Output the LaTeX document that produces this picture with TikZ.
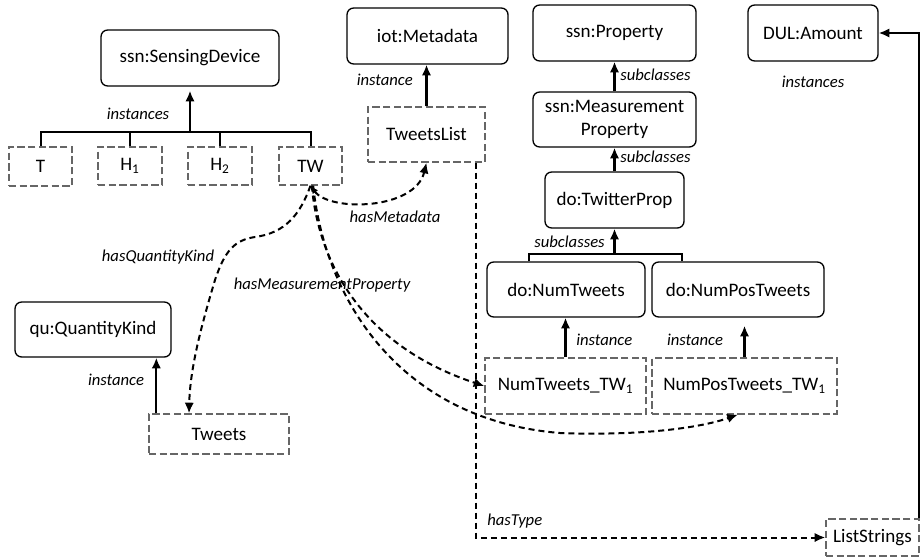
\documentclass[tikz,border=0pt]{standalone}
\usepackage{fontspec}
\setmainfont{Carlito}
\usetikzlibrary{arrows.meta,calc}
\begin{document}
\begin{tikzpicture}[x=0.75pt,y=-0.75pt,
  sz/.style 2 args={minimum width=#1*0.75pt, minimum height=#2*0.75pt},
  cls/.style={draw=black, line width=1pt, rounded corners=5pt, fill=white,
    font=\fontsize{14.3}{17}\selectfont, align=center, inner sep=1pt},
  inst/.style={draw=black!60, line width=1pt, dash pattern=on 5.5pt off 2.5pt,
    fill=white, font=\fontsize{14.3}{17}\selectfont, inner sep=1pt},
  lbl/.style={font=\fontsize{12.5}{15}\selectfont\itshape, inner sep=0pt},
  tip/.style={-{Latex[length=8pt,width=7pt]}},
  isa/.style={line width=1.6pt, tip},
  rel/.style={line width=1.5pt, dash pattern=on 4.5pt off 3pt, tip},
  tree/.style={line width=1.5pt}]

\useasboundingbox[fill=white] (0,0) rectangle (920,557);

% classes
\node[cls, sz={178}{56}] (sd)   at (190,58)      {ssn:SensingDevice};
\node[cls, sz={161}{56}] (meta) at (427.5,36)    {iot:Metadata};
\node[cls, sz={163}{56}] (prop) at (614.5,33)    {ssn:Property};
\node[cls, sz={163}{55}] (mp)   at (614.5,119.5) {ssn:Measurement\\Property};
\node[cls, sz={139}{56}] (tp)   at (614.5,200)   {do:TwitterProp};
\node[cls, sz={158}{55}] (nt)   at (566,289.5)   {do:NumTweets};
\node[cls, sz={172}{55}] (npt)  at (738,289.5)   {do:NumPosTweets};
\node[cls, sz={130}{56}] (amt)  at (813,33)      {DUL:Amount};
\node[cls, sz={156}{55}] (qk)   at (93,329.5)    {qu:QuantityKind};

% instances
\node[inst, sz={63}{39}]  (T)    at (40.5,166.5) {T};
\node[inst, sz={64}{38}]  (H1)   at (130,166)    {H\textsubscript{1}};
\node[inst, sz={64}{38}]  (H2)   at (220,166)    {H\textsubscript{2}};
\node[inst, sz={63}{38}]  (TW)   at (310.5,166)  {TW};
\node[inst, sz={117}{55}] (tl)   at (426.5,134.5){TweetsList};
\node[inst, sz={161}{56}] (ntw)  at (565.5,386)  {NumTweets\_TW\textsubscript{1}};
\node[inst, sz={185}{56}] (nptw) at (744.5,386)  {NumPosTweets\_TW\textsubscript{1}};
\node[inst, sz={140}{40}] (tw)   at (219,434)    {Tweets};
\node[inst, sz={93}{37}]  (ls)   at (872.5,537.5){ListStrings};

% sensing devices
\coordinate (bar) at (190,132);
\draw[tree] (T.north) -- (T.north |- bar) -- (TW.north |- bar) -- (TW.north);
\draw[tree] (H1.north) -- (H1.north |- bar);
\draw[tree] (H2.north) -- (H2.north |- bar);
\draw[isa] (sd.south |- bar) -- ([yshift=-3pt]sd.south);
\node[lbl] at (138,114) {instances};

% metadata
\draw[isa] (tl.north) -- (tl.north |- meta.south);
\node[lbl, anchor=east] at (413,80) {instance};

% property hierarchy
\draw[isa] (mp.north) -- (prop.south);
\node[lbl, anchor=west] at (620,75) {subclasses};
\draw[isa] (tp.north) -- (mp.south);
\node[lbl, anchor=west] at (620,157) {subclasses};

\coordinate (bl) at ($(nt.north west)!0.27!(nt.north east)$);
\coordinate (br) at ($(npt.north west)!0.175!(npt.north east)$);
\coordinate (bbar) at (614.5,254);
\draw[tree] (bl) |- (bbar) -| (br);
\draw[isa] (tp.south |- bbar) -- (tp.south);
\node[lbl, anchor=east] at (605,242) {subclasses};

\draw[isa] (ntw.north) -- (ntw.north |- nt.south);
\node[lbl, anchor=west] at (576,340) {instance};
\draw[isa, shorten >=6pt] (nptw.north) -- (nptw.north |- npt.south);
\node[lbl] at (695,340) {instance};

% quantity kind
\draw[isa] ([xshift=6pt]tw.north west) -- ([xshift=6pt]tw.north west |- qk.south);
\node[lbl] at (116,380) {instance};

% amount
\draw[isa] ([xshift=-0.8pt]ls.north east) |- (amt.east);
\node[lbl] at (813,82) {instances};

% relations
\draw[rel] ([xshift=-7.5pt]tl.south east) |- (ls.west);
\node[lbl, anchor=west] at (487,521) {hasType};

\draw[rel, {Latex[length=6pt,width=5pt]}-{Latex[length=8pt,width=7pt]}]
  (TW.south) .. controls (330,212) and (415,210) .. (tl.south);
\node[lbl] at (395,217) {hasMetadata};

\draw[rel] (TW.south) .. controls (300,215) and (285,233) .. (255,237)
  .. controls (235,240) and (225,250) .. (215,280)
  .. controls (200,330) and (190,370) .. ([xshift=-22.5pt]tw.north);
\node[lbl] at (158,257) {hasQuantityKind};

\draw[rel] ([xshift=1pt]TW.south) .. controls (318,260) and (360,345) .. (ntw.west);
\draw[rel] ([xshift=2pt]TW.south) .. controls (325,300) and (400,420) .. (560,433)
  .. controls (640,436) and (700,428) .. ([xshift=-5pt]nptw.south);
\node[lbl] at (322,285) {hasMeasurementProperty};

\end{tikzpicture}
\end{document}
